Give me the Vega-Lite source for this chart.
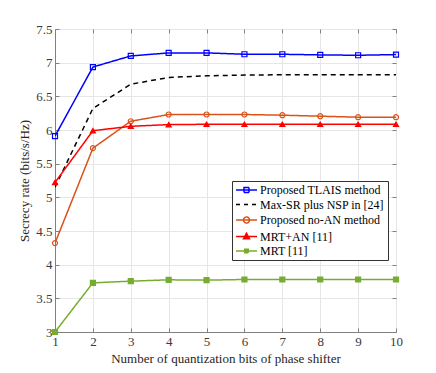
{
  "$schema": "https://vega.github.io/schema/vega-lite/v6.json",
  "width": 341,
  "height": 303,
  "autosize": "none",
  "padding": {"left": 55, "top": 29, "right": 40, "bottom": 41},
  "background": "white",
  "data": {"values": [
    {"bits": 1, "rate": 5.91, "series": "Proposed TLAIS method"},
    {"bits": 2, "rate": 6.935, "series": "Proposed TLAIS method"},
    {"bits": 3, "rate": 7.10, "series": "Proposed TLAIS method"},
    {"bits": 4, "rate": 7.145, "series": "Proposed TLAIS method"},
    {"bits": 5, "rate": 7.145, "series": "Proposed TLAIS method"},
    {"bits": 6, "rate": 7.125, "series": "Proposed TLAIS method"},
    {"bits": 7, "rate": 7.125, "series": "Proposed TLAIS method"},
    {"bits": 8, "rate": 7.115, "series": "Proposed TLAIS method"},
    {"bits": 9, "rate": 7.11, "series": "Proposed TLAIS method"},
    {"bits": 10, "rate": 7.12, "series": "Proposed TLAIS method"},
    {"bits": 1, "rate": 5.15, "series": "Max-SR plus NSP in [24]"},
    {"bits": 2, "rate": 6.32, "series": "Max-SR plus NSP in [24]"},
    {"bits": 3, "rate": 6.68, "series": "Max-SR plus NSP in [24]"},
    {"bits": 4, "rate": 6.78, "series": "Max-SR plus NSP in [24]"},
    {"bits": 5, "rate": 6.805, "series": "Max-SR plus NSP in [24]"},
    {"bits": 6, "rate": 6.815, "series": "Max-SR plus NSP in [24]"},
    {"bits": 7, "rate": 6.82, "series": "Max-SR plus NSP in [24]"},
    {"bits": 8, "rate": 6.82, "series": "Max-SR plus NSP in [24]"},
    {"bits": 9, "rate": 6.82, "series": "Max-SR plus NSP in [24]"},
    {"bits": 10, "rate": 6.82, "series": "Max-SR plus NSP in [24]"},
    {"bits": 1, "rate": 4.32, "series": "Proposed no-AN method"},
    {"bits": 2, "rate": 5.73, "series": "Proposed no-AN method"},
    {"bits": 3, "rate": 6.13, "series": "Proposed no-AN method"},
    {"bits": 4, "rate": 6.23, "series": "Proposed no-AN method"},
    {"bits": 5, "rate": 6.23, "series": "Proposed no-AN method"},
    {"bits": 6, "rate": 6.23, "series": "Proposed no-AN method"},
    {"bits": 7, "rate": 6.22, "series": "Proposed no-AN method"},
    {"bits": 8, "rate": 6.205, "series": "Proposed no-AN method"},
    {"bits": 9, "rate": 6.19, "series": "Proposed no-AN method"},
    {"bits": 10, "rate": 6.19, "series": "Proposed no-AN method"},
    {"bits": 1, "rate": 5.22, "series": "MRT+AN [11]"},
    {"bits": 2, "rate": 5.99, "series": "MRT+AN [11]"},
    {"bits": 3, "rate": 6.055, "series": "MRT+AN [11]"},
    {"bits": 4, "rate": 6.08, "series": "MRT+AN [11]"},
    {"bits": 5, "rate": 6.085, "series": "MRT+AN [11]"},
    {"bits": 6, "rate": 6.085, "series": "MRT+AN [11]"},
    {"bits": 7, "rate": 6.085, "series": "MRT+AN [11]"},
    {"bits": 8, "rate": 6.085, "series": "MRT+AN [11]"},
    {"bits": 9, "rate": 6.085, "series": "MRT+AN [11]"},
    {"bits": 10, "rate": 6.085, "series": "MRT+AN [11]"},
    {"bits": 1, "rate": 3.0, "series": "MRT [11]"},
    {"bits": 2, "rate": 3.73, "series": "MRT [11]"},
    {"bits": 3, "rate": 3.755, "series": "MRT [11]"},
    {"bits": 4, "rate": 3.775, "series": "MRT [11]"},
    {"bits": 5, "rate": 3.77, "series": "MRT [11]"},
    {"bits": 6, "rate": 3.78, "series": "MRT [11]"},
    {"bits": 7, "rate": 3.78, "series": "MRT [11]"},
    {"bits": 8, "rate": 3.78, "series": "MRT [11]"},
    {"bits": 9, "rate": 3.78, "series": "MRT [11]"},
    {"bits": 10, "rate": 3.78, "series": "MRT [11]"}
  ]},
  "layer": [
    {
      "mark": {"type": "line", "clip": true},
      "encoding": {
        "x": {"field": "bits", "type": "quantitative", "scale": {"domain": [1, 10], "nice": false},
              "axis": {"orient": "bottom", "values": [1,2,3,4,5,6,7,8,9,10], "format": "~r", "title": "Number of quantization bits of phase shifter", "grid": true}},
        "y": {"field": "rate", "type": "quantitative", "scale": {"domain": [3, 7.5], "nice": false, "zero": false},
              "axis": {"orient": "left", "values": [3,3.5,4,4.5,5,5.5,6,6.5,7,7.5], "format": "~r", "title": "Secrecy rate (bits/s/Hz)", "grid": true}},
        "stroke": {"field": "series", "type": "nominal", "legend": null,
                   "scale": {"domain": ["Proposed TLAIS method", "Max-SR plus NSP in [24]", "Proposed no-AN method", "MRT+AN [11]", "MRT [11]"],
                             "range": ["#0000ff", "#000000", "#d95319", "#ff0000", "#77ac30"]}},
        "strokeDash": {"field": "series", "type": "nominal", "legend": null,
                   "scale": {"domain": ["Proposed TLAIS method", "Max-SR plus NSP in [24]", "Proposed no-AN method", "MRT+AN [11]", "MRT [11]"],
                             "range": [[1,0], [5,4], [1,0], [1,0], [1,0]]}},
        "strokeWidth": {"field": "series", "type": "nominal", "legend": null,
                   "scale": {"domain": ["Proposed TLAIS method", "Max-SR plus NSP in [24]", "Proposed no-AN method", "MRT+AN [11]", "MRT [11]"],
                             "range": [1.5, 1.5, 1.5, 1.5, 1.1]}}
      }
    },
    {
      "transform": [{"filter": "datum.series !== 'Max-SR plus NSP in [24]'"}],
      "mark": {"type": "point", "filled": true, "strokeWidth": 1.2, "opacity": 1},
      "encoding": {
        "x": {"field": "bits", "type": "quantitative", "axis": {"orient": "top", "values": [1,2,3,4,5,6,7,8,9,10], "labels": false, "title": null, "grid": false, "domain": false}},
        "y": {"field": "rate", "type": "quantitative", "axis": {"orient": "right", "values": [3,3.5,4,4.5,5,5.5,6,6.5,7,7.5], "labels": false, "title": null, "grid": false, "domain": false}},
        "stroke": {"field": "series", "type": "nominal", "legend": null,
                   "scale": {"domain": ["Proposed TLAIS method", "Max-SR plus NSP in [24]", "Proposed no-AN method", "MRT+AN [11]", "MRT [11]"],
                             "range": ["#0000ff", "#000000", "#d95319", "#ff0000", "#77ac30"]}},
        "fill": {"field": "series", "type": "nominal", "legend": null,
                   "scale": {"domain": ["Proposed TLAIS method", "Max-SR plus NSP in [24]", "Proposed no-AN method", "MRT+AN [11]", "MRT [11]"],
                             "range": ["transparent", "transparent", "transparent", "#ff0000", "#77ac30"]}},
        "shape": {"field": "series", "type": "nominal", "legend": null,
                   "scale": {"domain": ["Proposed TLAIS method", "Max-SR plus NSP in [24]", "Proposed no-AN method", "MRT+AN [11]", "MRT [11]"],
                             "range": ["square", "square", "circle", "triangle-up", "square"]}},
        "size": {"field": "series", "type": "nominal", "legend": null,
                   "scale": {"domain": ["Proposed TLAIS method", "Max-SR plus NSP in [24]", "Proposed no-AN method", "MRT+AN [11]", "MRT [11]"],
                             "range": [25, 25, 36, 40, 12]}}
      }
    },
    {
      "transform": [{"filter": "false"}],
      "mark": {"type": "point", "filled": true, "strokeWidth": 1.5, "opacity": 1},
      "encoding": {
        "x": {"field": "bits", "type": "quantitative", "axis": null},
        "y": {"field": "rate", "type": "quantitative", "axis": null},
        "stroke": {"field": "series", "type": "nominal", "title": null,
                   "scale": {"domain": ["Proposed TLAIS method", "Max-SR plus NSP in [24]", "Proposed no-AN method", "MRT+AN [11]", "MRT [11]"],
                             "range": ["#0000ff", "#000000", "#d95319", "#ff0000", "#77ac30"]}},
        "fill": {"field": "series", "type": "nominal", "title": null,
                   "scale": {"domain": ["Proposed TLAIS method", "Max-SR plus NSP in [24]", "Proposed no-AN method", "MRT+AN [11]", "MRT [11]"],
                             "range": ["transparent", "transparent", "transparent", "#ff0000", "#77ac30"]}},
        "strokeDash": {"field": "series", "type": "nominal", "title": null,
                   "scale": {"domain": ["Proposed TLAIS method", "Max-SR plus NSP in [24]", "Proposed no-AN method", "MRT+AN [11]", "MRT [11]"],
                             "range": [[1,0], [4,4], [1,0], [1,0], [1,0]]}},
        "shape": {"field": "series", "type": "nominal", "title": null,
                   "scale": {"domain": ["Proposed TLAIS method", "Max-SR plus NSP in [24]", "Proposed no-AN method", "MRT+AN [11]", "MRT [11]"],
                             "range": [
                               "M-1,0H3.2M0.6,-0.5H1.6V0.5H0.6Z",
                               "M-1,0H3.2",
                               "M-1,0H3.2M1.7,0A0.6,0.6,0,1,1,0.5,0A0.6,0.6,0,1,1,1.7,0",
                               "M-1,0H3.2M1.1,-0.65L1.7,0.45L0.5,0.45Z",
                               "M-1,0H3.2M0.75,-0.35H1.45V0.35H0.75Z"
                             ]}}
      }
    }
  ],
  "resolve": {
    "scale": {"stroke": "independent", "fill": "independent", "shape": "independent", "strokeDash": "independent", "size": "independent", "strokeWidth": "independent"},
    "axis": {"x": "independent", "y": "independent"}
  },
  "config": {
    "font": "Liberation Serif",
    "view": {"stroke": "#808080", "strokeWidth": 1},
    "axis": {
      "labelFont": "Liberation Serif",
      "labelFontSize": 13,
      "labelColor": "#3a3a3a",
      "titleFont": "Liberation Serif",
      "titleFontSize": 13,
      "titleFontWeight": "normal",
      "titleColor": "#262626",
      "domainColor": "#808080",
      "tickColor": "#808080",
      "tickSize": -4,
      "labelPadding": 7,
      "titlePadding": 4,
      "gridColor": "#e6e6e6",
      "gridWidth": 1,
      "labelFlush": false
    },
    "legend": {
      "orient": "none",
      "legendX": 177,
      "legendY": 152,
      "padding": 3,
      "strokeColor": "#333333",
      "fillColor": "white",
      "symbolSize": 100,
      "symbolStrokeWidth": 1.5,
      "labelOffset": 13,
      "labelFont": "Liberation Serif",
      "labelFontSize": 12,
      "labelColor": "#000000",
      "rowPadding": 2.5,
      "labelLimit": 300
    }
  }
}
